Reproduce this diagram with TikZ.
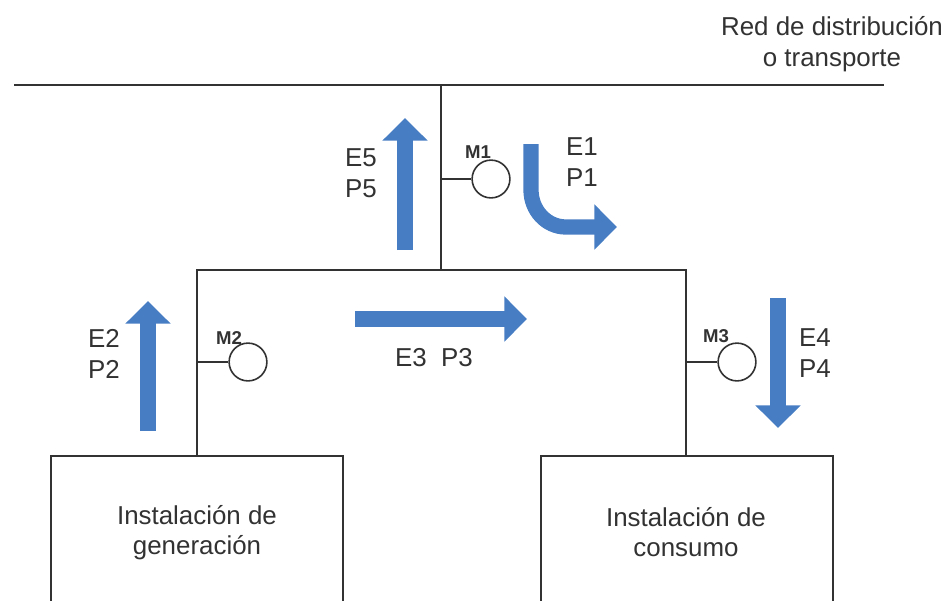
\documentclass[tikz,border=0pt]{standalone}
\usepackage{fontspec}
\setmainfont{Liberation Sans}
\usetikzlibrary{arrows.meta}
\definecolor{flowblue}{RGB}{70,125,195}
\definecolor{wirecol}{RGB}{50,50,50}
\tikzset{
  wire/.style={draw=wirecol,line width=1.2pt},
  meter/.style={circle,draw=wirecol,line width=1.2pt,minimum size=1.0cm,inner sep=0pt,fill=white},
  metertag/.style={font=\bfseries\fontsize{14}{14}\selectfont,inner sep=0pt,text=wirecol},
  lbl/.style={font=\fontsize{19.5}{23}\selectfont,align=center,inner sep=0pt,text=wirecol},
  flow/.style={draw=flowblue,line width=11.5pt,-{Triangle[length=17pt,width=33pt]}},
}
\begin{document}
\begin{tikzpicture}[x=0.0264583cm,y=-0.0264583cm]
 \useasboundingbox (0,0) rectangle (947,600);
 \begin{scope}
  \clip (0,0) rectangle (947,600);
  % bus and branches
  \coordinate (busl) at (14,85);
  \coordinate (busr) at (884,85);
  \coordinate (bust) at (441,85);
  \coordinate (bush) at (441,270);
  \coordinate (hl) at (197,270);
  \coordinate (hr) at (686,270);
  \coordinate (gent) at (197,456);
  \coordinate (cont) at (686,456);
  \draw [wire] (busl) -- (busr);
  \draw [wire] (bust) -- (bush);
  \draw [wire] (gent) -- (hl) -- (hr) -- (cont);

  % plants
  \draw [wire] (51,620) -- (51,456) -- (343,456) -- (343,620);
  \draw [wire] (541,620) -- (541,456) -- (833,456) -- (833,620);
  \node [lbl] (gen) at (197,532.5) {Instalación de\\generación};
  \node [lbl] (con) at (686,532) {Instalación de\\consumo};

  % meters
  \node [meter] (m1) at (491,179) {};
  \node [meter] (m2) at (248,362) {};
  \node [meter] (m3) at (737,362) {};
  \coordinate (m1w) at (441,179);
  \coordinate (m2w) at (197,362);
  \coordinate (m3w) at (686,362);
  \draw [wire] (m1w) -- (m1);
  \draw [wire] (m2w) -- (m2);
  \draw [wire] (m3w) -- (m3);
  \node [metertag] (t1) at (478,152) {M1};
  \node [metertag] (t2) at (229,338) {M2};
  \node [metertag] (t3) at (716,336) {M3};

  % flows
  \draw [flow] (405,250) -- (405,118);
  \draw [flow] (148,431) -- (148,301);
  \draw [flow] (355,319) -- (527,319);
  \draw [flow] (778,298) -- (778,428);
  \draw [flow] (531,144) -- (531,190) to [out=270,in=180] (566,227) -- (617,227);

  % labels
  \node [lbl] (e5) at (361,173) {E5\\P5};
  \node [lbl] (e1) at (582,162) {E1\\P1};
  \node [lbl] (e2) at (104,354) {E2\\P2};
  \node [lbl] (e3) at (434,358) {E3\ \ P3};
  \node [lbl] (e4) at (815,353) {E4\\P4};
  \node [lbl] (red) at (832,44) {Red de distribución\\o transporte};
 \end{scope}
\end{tikzpicture}
\end{document}
